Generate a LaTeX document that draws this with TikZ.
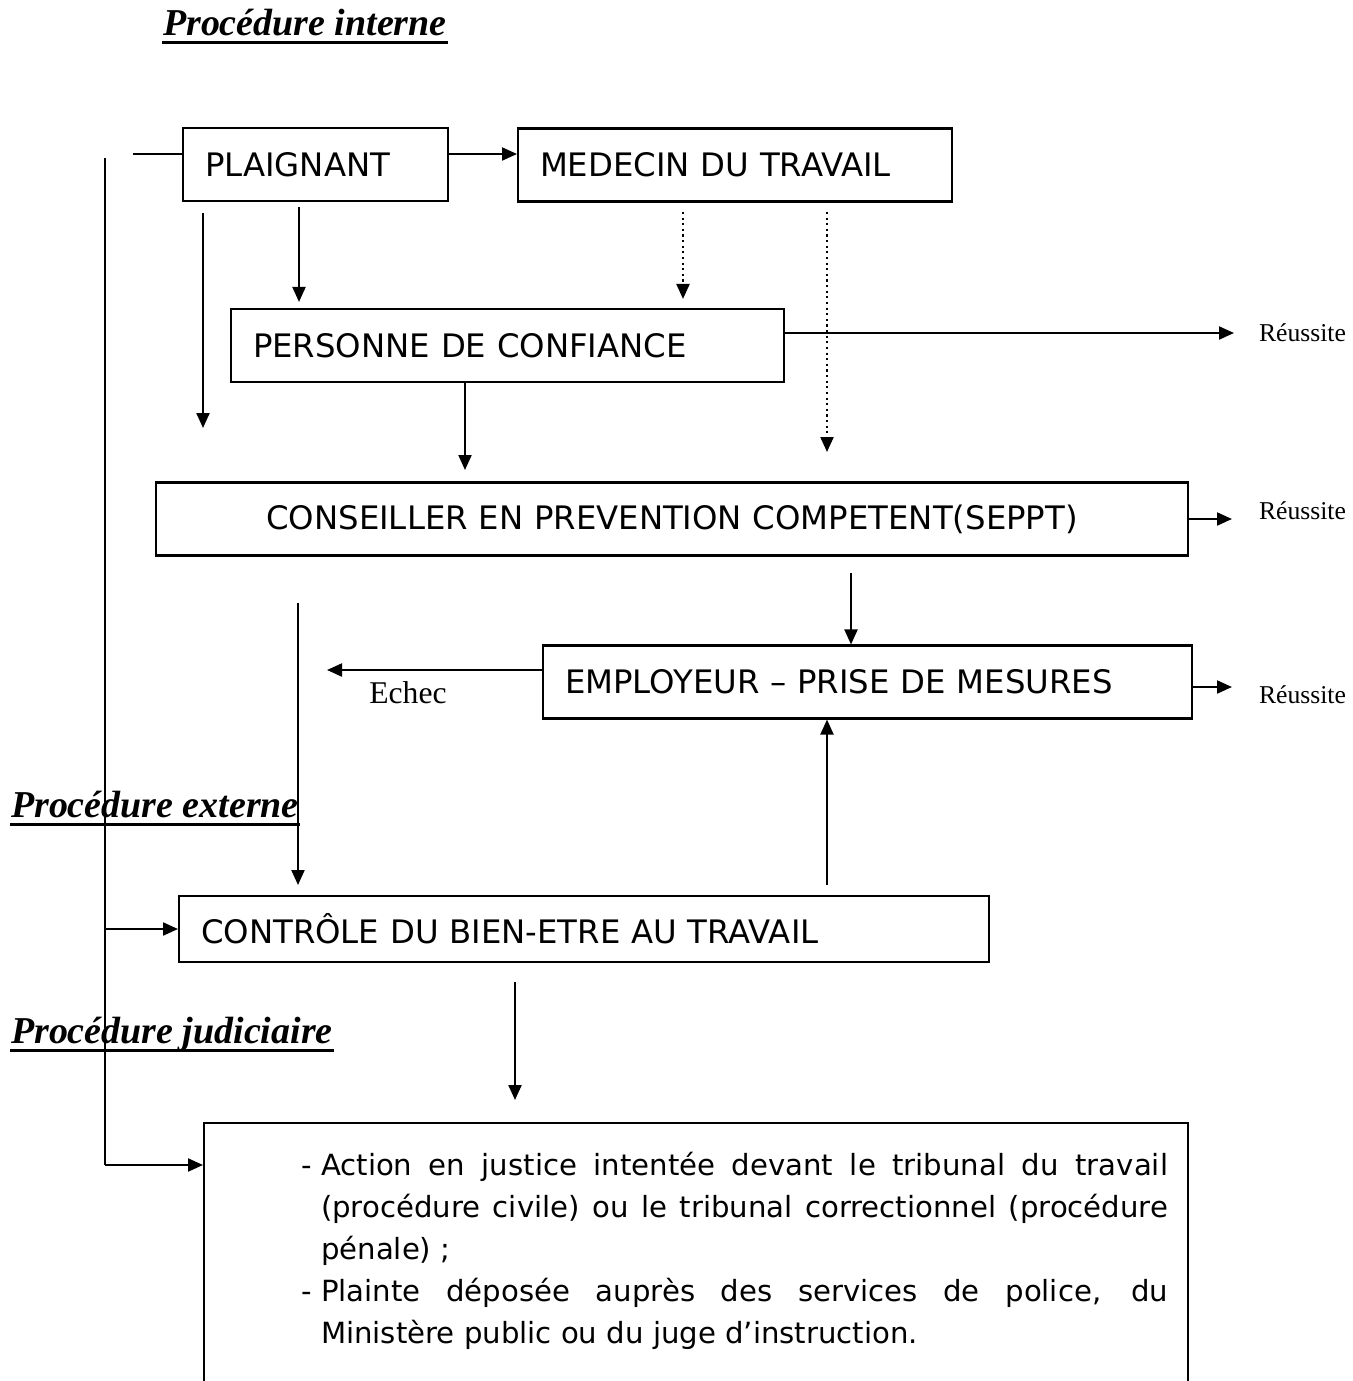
\documentclass[tikz,border=0pt]{standalone}
\usepackage{fontspec}
\setmainfont{DejaVu Sans}
\newfontfamily\serifroman{Liberation Serif}
\usetikzlibrary{positioning,arrows.meta}

\begin{document}
\begin{tikzpicture}[
  x=0.1mm, y=-0.1mm, line width=0.6pt,
  boite/.style={rectangle, draw, minimum height=7.3mm, inner xsep=2.2mm, inner ysep=0pt, anchor=west, align=left, font=\fontsize{9.2}{11}\selectfont},
  titre/.style={anchor=base west, inner sep=0pt, font=\serifroman\bfseries\itshape\fontsize{10.8}{13}\selectfont},
  resultat/.style={inner sep=0pt, font=\serifroman\fontsize{7.3}{9}\selectfont},
  pointille/.style={densely dotted},
  >={Triangle[length=1.5mm,width=1.3mm]}
]
  \useasboundingbox (0,0) rectangle (1353,1381);

  % titres
  \node[titre] (interne) at (162,35) {Procédure interne};
  \node[titre] (externe) at (10,817) {Procédure externe};
  \node[titre] (judiciaire) at (10,1043) {Procédure judiciaire};
  \foreach \t in {interne,externe,judiciaire}
    \draw[line width=0.9pt] ([yshift=-0.75mm]\t.base west) -- ([yshift=-0.75mm]\t.base east);

  % boites
  \node[boite, text width=22.1mm] (plaignant) at (182,164.5) {PLAIGNANT};
  \node[boite, text width=39.0mm] (medecin) at (517,165) {MEDECIN DU TRAVAIL};
  \node[boite, text width=50.9mm] (confiance) at (230,345.5) {PERSONNE DE CONFIANCE};
  \node[boite, text width=98.8mm, align=center] (conseiller) at (155,519) {CONSEILLER EN PREVENTION COMPETENT(SEPPT)};
  \node[boite, text width=60.5mm] (employeur) at (542,682) {EMPLOYEUR – PRISE DE MESURES};
  \node[boite, text width=76.6mm, minimum height=6.6mm] (controle) at (178,929) {CONTRÔLE DU BIEN-ETRE AU TRAVAIL};
  \node[draw, minimum width=98.4mm, minimum height=30mm, anchor=north west, inner sep=0pt] (cadre) at (203,1122) {};
  \node[anchor=base west, inner sep=0pt, align=left, font=\fontsize{8.3}{11.95}\selectfont] (actions) at (300,1343) {%
    \makebox[2mm][l]{-}\makebox[84.7mm][s]{Action en justice intentée devant le tribunal du travail}\\
    \hspace*{2mm}\makebox[84.7mm][s]{(procédure civile) ou le tribunal correctionnel (procédure}\\
    \hspace*{2mm}pénale) ;\\
    \makebox[2mm][l]{-}\makebox[84.7mm][s]{Plainte déposée auprès des services de police, du}\\
    \hspace*{2mm}Ministère public ou du juge d’instruction.};

  % ligne de gauche
  \coordinate (depart) at (133,154);
  \coordinate (montant) at (105,158);
  \coordinate (coin) at (105,1165);
  \draw (depart) -- (depart -| plaignant.west);
  \draw[->] (plaignant.east |- depart) -- (medecin.west |- depart);
  \draw (montant) -- (coin);
  \draw[->] (montant |- controle.west) -- (controle.west);
  \draw[->] (coin) -- (coin -| cadre.west);

  % fleches vers le bas
  \coordinate (a1) at (203,213);
  \coordinate (a2) at (203,428);
  \draw[->] (a1) -- (a2);
  \coordinate (b1) at (299,207);
  \draw[->, shorten >=0.6mm] (b1) -- (b1 |- confiance.north);
  \coordinate (c1) at (683,212);
  \draw[pointille, ->, shorten >=0.9mm] (c1) -- (c1 |- confiance.north);
  \coordinate (d1) at (827,212);
  \coordinate (d2) at (827,452);
  \draw[pointille, ->] (d1) -- (d2);
  \coordinate (f1) at (465,470);
  \draw[->] (confiance.south -| f1) -- (f1);
  \coordinate (h1) at (851,573);
  \draw[->] (h1) -- (h1 |- employeur.north);
  \coordinate (i1) at (298,603);
  \coordinate (i2) at (298,885);
  \draw[->] (i1) -- (i2);
  \coordinate (l1) at (827,885);
  \draw[->] (l1) -- (l1 |- employeur.south);
  \coordinate (m1) at (515,982);
  \coordinate (m2) at (515,1100);
  \draw[->] (m1) -- (m2);

  % reussite / echec
  \coordinate (e1) at (1234,333);
  \draw[->] (confiance.east |- e1) -- (e1);
  \node[resultat, anchor=west] (reussite1) at (1258,333) {Réussite};
  \coordinate (g1) at (1232,519);
  \draw[->] (conseiller.east) -- (g1);
  \node[resultat, anchor=west] (reussite2) at (1258,511) {Réussite};
  \coordinate (k1) at (1232,687);
  \draw[->] (employeur.east |- k1) -- (k1);
  \node[resultat, anchor=west] (reussite3) at (1258,695) {Réussite};
  \coordinate (j1) at (327,670);
  \draw[->] (employeur.west |- j1) -- (j1);
  \node[resultat, font=\serifroman\fontsize{9}{11}\selectfont] (echec) at (408,693) {Echec};
\end{tikzpicture}
\end{document}
